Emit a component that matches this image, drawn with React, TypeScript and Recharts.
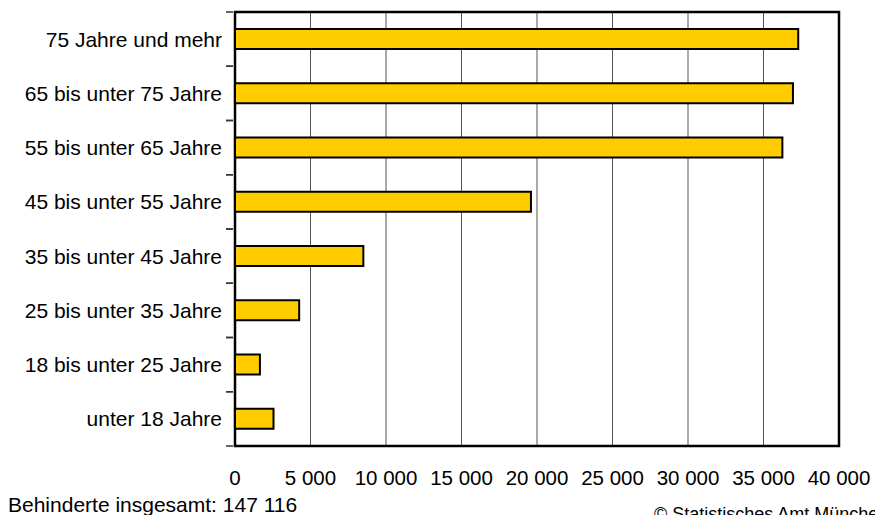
import React from 'react';
import {
  BarChart,
  Bar,
  XAxis,
  YAxis,
  CartesianGrid,
  ReferenceArea,
  Customized,
} from 'recharts';

// Age groups, top to bottom
const ageGroups = [
  '75 Jahre und mehr',
  '65 bis unter 75 Jahre',
  '55 bis unter 65 Jahre',
  '45 bis unter 55 Jahre',
  '35 bis unter 45 Jahre',
  '25 bis unter 35 Jahre',
  '18 bis unter 25 Jahre',
  'unter 18 Jahre',
];

// Number of disabled persons per age group
const disabledCounts = [37300, 36950, 36250, 19600, 8500, 4250, 1650, 2550];

const valueTicks = [0, 5000, 10000, 15000, 20000, 25000, 30000, 35000, 40000];

const totalLabel = 'Behinderte insgesamt: 147 116';
const sourceLabel = '© Statistisches Amt München';

const data = ageGroups.map((group, i) => ({ group, count: disabledCounts[i] }));

const WIDTH = 875;
const HEIGHT = 515;
const MARGIN = { top: 12, right: 36, bottom: 0, left: 0 };
const Y_AXIS_WIDTH = 235;
const X_AXIS_HEIGHT = 69;
const PLOT_HEIGHT = HEIGHT - MARGIN.top - MARGIN.bottom - X_AXIS_HEIGHT;
const HALF_BAND = PLOT_HEIGHT / ageGroups.length / 2;

const FONT = '"Liberation Sans", Arial, Helvetica, sans-serif';

const formatThousands = (n: number) =>
  String(n).replace(/\B(?=(\d{3})+(?!\d))/g, ' ');

const AgeTick = (props: any) => {
  const { x, y, payload } = props;
  return (
    <g>
      <line x1={x - 7} x2={x} y1={y - HALF_BAND} y2={y - HALF_BAND} stroke="#333" strokeWidth={1.5} />
      <line x1={x - 7} x2={x} y1={y + HALF_BAND} y2={y + HALF_BAND} stroke="#333" strokeWidth={1.5} />
      <text
        x={x - 11}
        y={y}
        dy="0.36em"
        textAnchor="end"
        fontSize={21}
        fontFamily={FONT}
        fill="#000"
      >
        {payload.value}
      </text>
    </g>
  );
};

const ValueTick = (props: any) => {
  const { x, y, payload } = props;
  return (
    <text
      x={x}
      y={y + 37}
      textAnchor="middle"
      fontSize={20.5}
      fontFamily={FONT}
      fill="#000"
    >
      {formatThousands(payload.value)}
    </text>
  );
};

const Footer = () => (
  <g>
    <text x={8} y={511.5} fontSize={21} fontFamily={FONT} fill="#000">
      {totalLabel}
    </text>
    <text x={654} y={519.5} fontSize={18} fontFamily={FONT} fill="#000">
      {sourceLabel}
    </text>
  </g>
);

export default function App() {
  return (
    <div style={{ position: 'absolute', left: 0, top: 0, width: WIDTH, height: HEIGHT, background: '#fff' }}>
      <BarChart
        layout="vertical"
        width={WIDTH}
        height={HEIGHT}
        data={data}
        margin={MARGIN}
        barSize={20}
      >
        <CartesianGrid horizontal={false} vertical={true} stroke="#555" strokeWidth={1} />
        <XAxis
          type="number"
          domain={[0, 40000]}
          ticks={valueTicks}
          interval={0}
          height={X_AXIS_HEIGHT}
          axisLine={false}
          tickLine={false}
          tickSize={0}
          tick={<ValueTick />}
        />
        <YAxis
          type="category"
          dataKey="group"
          width={Y_AXIS_WIDTH}
          interval={0}
          axisLine={false}
          tickLine={false}
          tickSize={0}
          tick={<AgeTick />}
        />
        <Bar
          dataKey="count"
          fill="#FFCC00"
          stroke="#000"
          strokeWidth={2}
          isAnimationActive={false}
        />
        <ReferenceArea
          x1={0}
          x2={40000}
          fill="none"
          fillOpacity={0}
          stroke="#000"
          strokeWidth={2.5}
          ifOverflow="visible"
        />
        <Customized component={Footer} />
      </BarChart>
    </div>
  );
}
